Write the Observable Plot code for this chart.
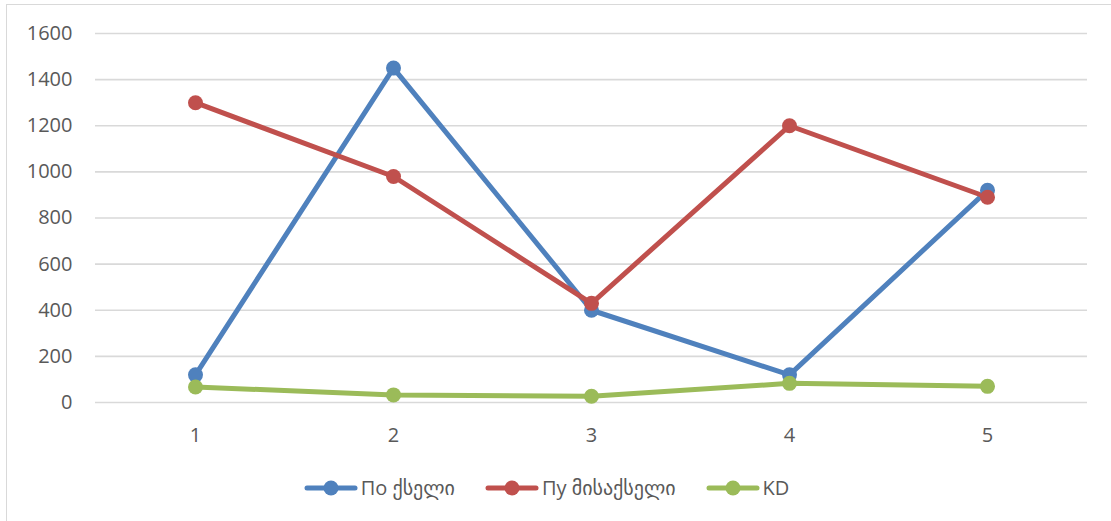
<!DOCTYPE html>
<html>
<head>
<meta charset="utf-8">
<script src="https://cdn.jsdelivr.net/npm/d3@7"></script>
<script src="https://cdn.jsdelivr.net/npm/@observablehq/plot@0.6"></script>
<style>
  html, body { margin: 0; padding: 0; background: #fff; }
  #wrap { position: relative; width: 1111px; height: 521px; overflow: hidden; font-family: "Open Sans", "DejaVu Sans", sans-serif; }
  #border { position: absolute; left: 6px; top: 4px; width: 1120px; height: 540px; border: 1px solid #d9d9d9; box-sizing: border-box; }
  #chart { position: absolute; left: 0; top: 0; }
  #legend { position: absolute; left: 0; top: 474px; width: 1093px; display: flex; justify-content: center; gap: 30px; color: #595959; font-size: 20px; line-height: 28px; font-family: "Open Sans", "DejaVu Sans", sans-serif; }
  .item { display: flex; align-items: center; gap: 3px; }
  .item svg { display: block; }
</style>
</head>
<body>
<div id="wrap">
  <div id="border"></div>
  <div id="chart"></div>
  <div id="legend"></div>
</div>
<script>
const categories = ["1", "2", "3", "4", "5"];
const seriesNames = ["По ქსელი", "Пу მისაქსელი", "KD"];
const poValues = [120, 1450, 400, 120, 920];
const puValues = [1300, 980, 430, 1200, 890];
const kdValues = [67, 33, 27, 83, 70];
const yTicks = [0, 200, 400, 600, 800, 1000, 1200, 1400, 1600];
const colors = ["#4f81bd", "#c0504d", "#9bbb59"];

const seriesValues = [poValues, puValues, kdValues];
const data = [];
seriesNames.forEach((s, si) => {
  categories.forEach((c, ci) => data.push({series: s, cat: c, value: seriesValues[si][ci]}));
});

const chart = Plot.plot({
  width: 1111,
  height: 460,
  marginTop: 33,
  marginBottom: 58,
  marginLeft: 95,
  marginRight: 24,
  style: {fontSize: "20px", fontFamily: "'Open Sans', 'DejaVu Sans', sans-serif", color: "#595959", background: "transparent"},
  x: {type: "point", domain: categories, padding: 0.5, label: null},
  y: {domain: [0, 1600], label: null},
  color: {domain: seriesNames, range: colors},
  marks: [
    Plot.ruleY(yTicks, {stroke: "#d9d9d9", strokeWidth: 1.6}),
    Plot.axisY({ticks: yTicks, tickFormat: "d", tickSize: 0, tickPadding: 23, label: null, fill: "#595959", fontSize: 20}),
    Plot.axisX({tickSize: 0, tickPadding: 25, label: null, fill: "#595959", fontSize: 20}),
    Plot.line(data, {x: "cat", y: "value", z: "series", stroke: "series", strokeWidth: 5, strokeLinejoin: "round", strokeLinecap: "round"}),
    Plot.dot(data, {x: "cat", y: "value", fill: "series", r: 7.5})
  ]
});
document.getElementById("chart").appendChild(chart);

const legend = document.getElementById("legend");
seriesNames.forEach((s, i) => {
  const item = document.createElement("div");
  item.className = "item";
  item.innerHTML = `<svg width="54" height="20"><line x1="3" y1="10" x2="51" y2="10" stroke="${colors[i]}" stroke-width="5" stroke-linecap="round"/><circle cx="27" cy="10" r="7.5" fill="${colors[i]}"/></svg><span>${s}</span>`;
  legend.appendChild(item);
});
</script>
</body>
</html>
